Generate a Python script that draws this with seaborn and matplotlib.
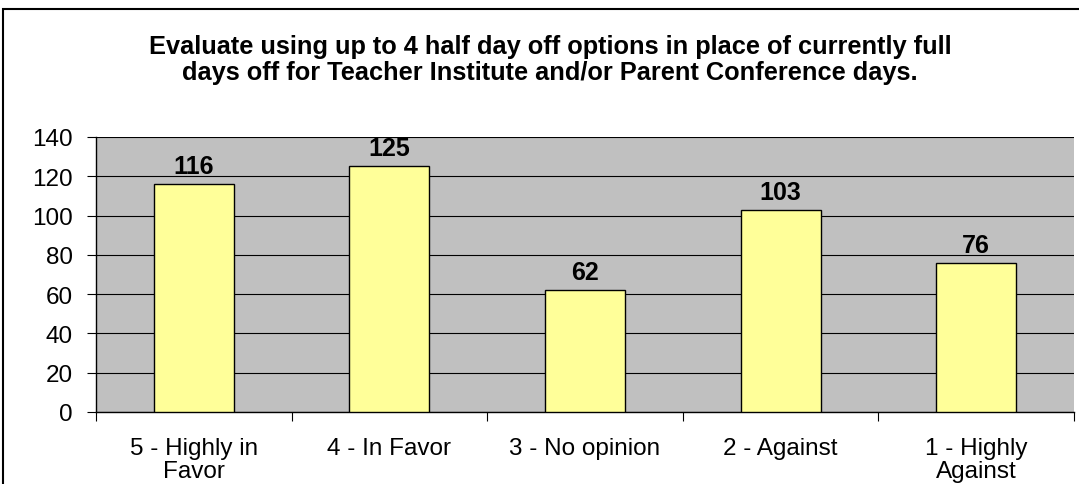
import pandas as pd
import seaborn as sns
import matplotlib.pyplot as plt
from matplotlib.patches import Rectangle

# Data
categories = ['5 - Highly in\nFavor', '4 - In Favor', '3 - No opinion', '2 - Against', '1 - Highly\nAgainst']
counts = [116, 125, 62, 103, 76]
df = pd.DataFrame({'option': categories, 'count': counts})

sns.set_style('white')
plt.rcParams['font.family'] = ['Liberation Sans', 'DejaVu Sans']
plt.rcParams['text.color'] = 'black'
plt.rcParams['xtick.color'] = 'black'
plt.rcParams['ytick.color'] = 'black'

fig = plt.figure(figsize=(10.79, 4.85), dpi=100)
ax = fig.add_axes([96 / 1079, 1 - 413 / 485, (1074 - 96) / 1079, (413 - 138) / 485])
ax.set_facecolor('#C0C0C0')

sns.barplot(data=df, x='option', y='count', color='#FFFF99', edgecolor='black',
            linewidth=1.0, width=0.41, saturation=1, ax=ax, zorder=3)

ax.set_xlim(-0.5, 4.5)
ax.set_ylim(0, 140)
ax.set_yticks(range(0, 141, 20))
ax.yaxis.grid(True, color='black', linewidth=0.8, zorder=1)
ax.set_axisbelow(True)
ax.set_xlabel('')
ax.set_ylabel('')

# category boundary ticks on x axis
ax.set_xticks([i - 0.5 for i in range(6)], minor=True)
ax.tick_params(axis='x', which='minor', length=6.5, width=0.8, color='black', direction='out')
ax.tick_params(axis='x', which='major', length=0, labelsize=17.5, pad=18)
ax.tick_params(axis='y', length=6.5, width=0.8, color='black', direction='out', labelsize=17.5, pad=10)
ax.xaxis.set_ticks_position('bottom')
ax.yaxis.set_ticks_position('left')
for lbl in ax.get_xticklabels():
    lbl.set_linespacing(1.05)

for s in ['top', 'right']:
    ax.spines[s].set_visible(False)
for s in ['left', 'bottom']:
    ax.spines[s].set_color('black')
    ax.spines[s].set_linewidth(1.0)

# value labels
for i, v in enumerate(counts):
    ax.text(i, v + 5.6, str(v), ha='center', va='baseline', fontsize=18, fontweight='bold')

fig.text(0.51, 1 - 60 / 485,
         'Evaluate using up to 4 half day off options in place of currently full\n'
         'days off for Teacher Institute and/or Parent Conference days.',
         ha='center', va='center', fontsize=18.3, fontweight='bold', linespacing=1.15)

# outer chart border
fig.patches.append(Rectangle((3 / 1079, -0.1), 1.2, 1.1 - 10 / 485, transform=fig.transFigure,
                             fill=False, edgecolor='black', linewidth=1.5))

fig.savefig('out.png', dpi=100)
